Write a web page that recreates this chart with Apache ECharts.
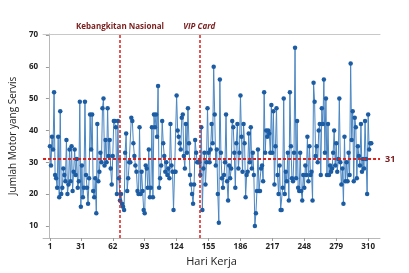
<!DOCTYPE html>
<html>
<head>
<meta charset="utf-8">
<script src="https://cdn.jsdelivr.net/npm/echarts@6/dist/echarts.min.js"></script>
<style>
  html, body { margin: 0; padding: 0; background: #fff; }
  #chart { width: 409px; height: 273px; }
</style>
</head>
<body>
<div id="chart"></div>
<script>
// jumlah motor yang servis per hari kerja (hari 1..313)
const jumlahServis = [
  35, 29, 38, 34, 52, 26, 25, 22, 38, 19, 46, 20, 22, 28, 26, 24, 37, 20, 23, 34,
  24, 35, 21, 27, 34, 26, 31, 22, 24, 49, 16, 29, 19, 22, 49, 26, 22, 17, 25, 45,
  34, 45, 21, 19, 25, 14, 42, 24, 27, 33, 30, 47, 50, 29, 37, 30, 47, 32, 37, 28,
  23, 32, 43, 43, 41, 20, 43, 25, 18, 20, 17, 16, 15, 33, 39, 21, 25, 30, 30, 44,
  43, 36, 32, 29, 27, 21, 20, 41, 20, 27, 21, 15, 14, 29, 28, 22, 34, 19, 22, 41,
  19, 45, 41, 45, 38, 54, 22, 25, 29, 43, 36, 32, 27, 30, 26, 28, 25, 42, 29, 27,
  15, 27, 27, 51, 40, 38, 36, 34, 44, 45, 32, 28, 42, 33, 47, 36, 26, 23, 20, 17,
  23, 37, 33, 30, 30,
  30, 26, 41, 15, 28, 33, 23, 30, 47, 33, 30, 34, 42, 36, 60, 45, 29, 34, 20, 11,
  56, 33, 25, 22, 26, 30, 45, 24, 18, 29, 25, 28, 43, 41, 33, 22, 36, 42, 28, 33,
  51, 38, 27, 42, 36, 19, 26, 27, 39, 30, 41, 28, 33, 26, 10, 14, 21, 34, 21, 21,
  28, 29, 24, 52, 33, 40, 38, 40, 39, 33, 48, 33, 46, 23, 35, 47, 26, 20, 29, 15,
  15, 22, 50, 20, 27, 24, 33, 18, 52, 35, 25, 24, 33, 66, 25, 43, 22, 21, 33, 21,
  18, 26, 22, 29, 26, 38, 24, 35, 26, 27, 18, 55, 49, 32, 35, 30, 40, 42, 26, 47,
  42, 56, 33, 50, 26, 42, 26, 29, 27, 28, 33, 40, 29, 36, 27, 31, 50, 30, 23, 28,
  17, 38, 24, 30, 24, 33, 26, 61, 37, 46, 24, 44, 41, 25, 35, 32, 29, 42, 27, 31,
  28, 43, 31, 20, 45, 34, 36, 36
];
const hariTicks = [1, 31, 62, 93, 124, 155, 186, 217, 248, 279, 310];
const yTicks = [10, 20, 30, 40, 50, 60, 70];
const rataRata = 31;
const kejadian = [
  { hari: 69, nama: 'Kebangkitan Nasional', italic: false },
  { hari: 146, nama: 'VIP Card', italic: true },
];

const chart = echarts.init(document.getElementById('chart'));
const red = '#d9211d';
const darkRed = '#7a1c1c';
const textFont = '"Open Sans", "Liberation Sans", sans-serif';

const option = {
  animation: false,
  backgroundColor: '#fff',
  grid: { left: 39, right: 29, top: 34, bottom: 35 },
  xAxis: [
    {
      type: 'value',
      min: -5.7,
      max: 321.5,
      name: 'Hari Kerja',
      nameLocation: 'middle',
      nameGap: 13,
      nameTextStyle: { fontSize: 11, color: '#222', fontFamily: textFont },
      axisLine: { lineStyle: { color: '#b8b8b8' } },
      axisTick: { show: true, customValues: hariTicks, length: 3, lineStyle: { color: '#999' } },
      axisLabel: { customValues: hariTicks, fontSize: 8, color: '#222', margin: 5, fontWeight: 'bold', fontFamily: textFont },
      splitLine: { show: false },
    },
    {
      type: 'value',
      position: 'top',
      min: -5.7,
      max: 321.5,
      axisLine: { show: true, lineStyle: { color: '#c8c8c8' } },
      axisTick: { show: false },
      axisLabel: { show: false },
      splitLine: { show: false },
    },
  ],
  yAxis: {
    type: 'value',
    min: 6.2,
    max: 70.3,
    name: 'Jumlah Motor yang Servis',
    nameLocation: 'middle',
    nameGap: 19,
    nameTextStyle: { fontSize: 10, color: '#222', fontFamily: textFont },
    axisLine: { show: true, lineStyle: { color: '#b8b8b8' } },
    axisTick: { show: true, customValues: yTicks, length: 3, lineStyle: { color: '#999' } },
    axisLabel: { customValues: yTicks, fontSize: 8, color: '#222', margin: 5, fontWeight: 'bold', fontFamily: textFont },
    splitLine: { show: false },
  },
  series: [
    {
      type: 'line',
      data: jumlahServis.map((v, i) => [i + 1, v]),
      symbol: 'circle',
      symbolSize: 4.5,
      itemStyle: { color: '#1c5ca3' },
      lineStyle: { color: '#4a86c2', width: 1 },
      z: 3,
      markLine: {
        silent: true,
        symbol: 'none',
        lineStyle: { color: red, type: [3, 2], width: 2 },
        data: [
          {
            yAxis: rataRata,
            label: { show: true, position: 'end', formatter: String(rataRata), color: darkRed, fontSize: 9, fontWeight: 'bold', distance: 5, fontFamily: textFont },
          },
        ].concat(kejadian.map((k) => ({
          xAxis: k.hari,
          lineStyle: { width: 1.5 },
          label: {
            show: true,
            position: 'end',
            formatter: k.nama,
            color: darkRed,
            fontSize: 8,
            fontWeight: 'bold',
            fontStyle: k.italic ? 'italic' : 'normal',
            distance: 3,
            fontFamily: textFont,
          },
        }))),
      },
    },
  ],
};

chart.setOption(option);
</script>
</body>
</html>
